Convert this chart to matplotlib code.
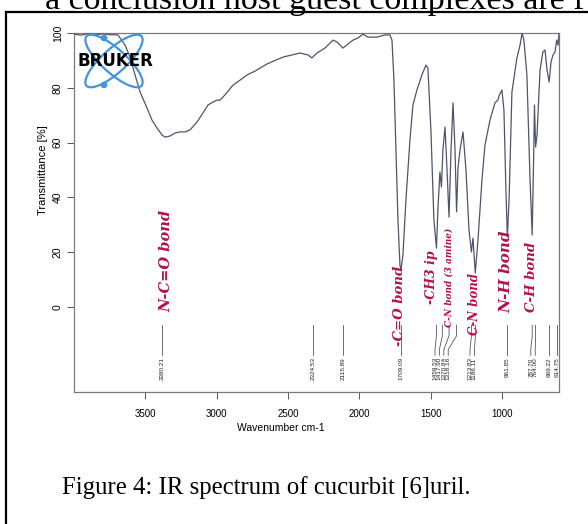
import matplotlib
matplotlib.use("Agg")
import matplotlib.pyplot as plt
from matplotlib.patches import Ellipse, Circle
from matplotlib.lines import Line2D

# IR trace of cucurbit[6]uril: wavenumber (cm-1) and transmittance (%)
wavenumber = [4000, 3950, 3900, 3850, 3800, 3750, 3692, 3642, 3607, 3572,
              3537, 3488, 3453, 3418, 3383, 3362, 3327, 3292, 3257, 3222,
              3187, 3138, 3096, 3061, 3026, 2998, 2977, 2942, 2885, 2836,
              2787, 2731, 2647, 2535, 2416, 2360, 2332, 2297, 2241, 2184,
              2156, 2114, 2079, 2044, 2009, 1974, 1939, 1876, 1820, 1785,
              1771, 1757, 1743, 1729, 1715, 1708, 1694, 1673, 1645, 1624,
              1596, 1561, 1533, 1519, 1498, 1477, 1459, 1449, 1435, 1424,
              1414, 1399, 1385, 1371, 1357, 1343, 1329, 1318, 1308, 1294,
              1273, 1252, 1231, 1214, 1203, 1187, 1168, 1140, 1119, 1084,
              1049, 1028, 1021, 1000, 986, 972, 962, 950, 930, 895,
              873, 859, 846, 825, 803, 788, 778, 772, 764, 754,
              733, 713, 698, 684, 669, 656, 642, 628, 616, 607,
              600]
transmittance = [99.6, 99.2, 99.8, 99.3, 99.7, 99.4, 99.3, 95.6, 91.2, 84.7,
                 78.5, 72.6, 68.2, 65.3, 62.8, 62.0, 62.4, 63.5, 63.9, 63.9,
                 64.6, 67.5, 70.8, 73.7, 74.8, 75.5, 75.5, 77.4, 81.0, 82.8,
                 84.7, 86.1, 88.7, 91.2, 92.7, 92.0, 90.9, 92.7, 94.5, 97.4,
                 96.7, 94.5, 96.0, 97.4, 98.2, 99.6, 98.5, 98.5, 99.3, 99.3,
                 97.4, 82.8, 57.3, 31.8, 15.3, 13.5, 19.0, 39.1, 60.9, 73.7,
                 79.2, 84.7, 88.3, 87.2, 64.6, 31.8, 21.5, 35.4, 49.3, 43.8,
                 57.3, 65.7, 50.0, 32.8, 57.3, 74.5, 57.3, 34.7, 50.7, 57.3,
                 63.9, 50.0, 28.1, 20.1, 25.2, 12.4, 24.5, 46.4, 59.1, 68.2,
                 74.5, 75.5, 77.0, 79.2, 71.9, 42.7, 25.5, 39.1, 78.5, 90.9,
                 95.6, 100.0, 97.4, 84.7, 46.4, 26.3, 53.6, 73.7, 58.4, 62.8,
                 86.5, 93.1, 93.8, 86.5, 82.1, 89.4, 92.0, 93.1, 97.4, 95.6,
                 100.0]

# picked peaks
peaks = [3380.21, 2324.53, 2115.89, 1709.09, 1459.53, 1417.90, 1370.84,
         1318.16, 1213.83, 1186.11, 961.85, 787.70, 764.00, 669.22, 614.75]

# band assignments written over the spectrum
bands = ["N-C=O bond", "-C=O bond", "-CH3 ip", "C-N bond (3 amine)",
         "C-N bond", "N-H bond", "C-H bond"]
band_at = [(3350, 17), (1715, 0.5), (1493, 11), (1369, 11), (1189, 1), (967, 13), (791, 11)]
band_size = [10.5, 9.5, 9, 6.5, 8.5, 11, 9.5]

W, H = 588, 524
SANS = ["Liberation Sans Narrow", "Liberation Sans", "DejaVu Sans"]
RED = "#b3124e"
LINE = "#52526c"
BLUE = "#4294dc"


def fx(px):
    return px / W


def fy(py):
    return 1 - py / H


def label_slots(pos, gap=31, join=53):
    # squeeze close peaks into a packed run of labels
    slots = list(pos)
    i = 0
    while i < len(pos):
        j = i
        while j + 1 < len(pos) and pos[j] - pos[j + 1] < join:
            j += 1
        if j > i:
            for k in range(i, j + 1):
                slots[k] = pos[i] + 10 - gap * (k - i)
        i = j + 1
    return slots


fig = plt.figure(figsize=(W / 100, H / 100), dpi=100)
fig.patch.set_facecolor("white")

# page text around the chart
fig.text(fx(45), fy(9), "a conclusion host guest complexes are f", fontsize=24.5,
         family="Liberation Serif", va="baseline", ha="left")
fig.add_artist(Line2D([fx(6), 1], [fy(12), fy(12)], color="black", lw=1.6))
fig.add_artist(Line2D([fx(6), fx(6)], [0, fy(12)], color="black", lw=1.6))
fig.text(fx(266), fy(488), "Figure 4: IR spectrum of cucurbit [6]uril.", fontsize=17.8,
         family="Liberation Serif", ha="center", va="center")

ax = fig.add_axes([fx(74), fy(392), fx(559) - fx(74), fy(33) - fy(392)])
ax.plot(wavenumber, transmittance, color=LINE, lw=0.9, zorder=3)
ax.set_xlim(4000, 600)
ax.set_ylim(-31, 100)
for s in ax.spines.values():
    s.set_color("#7a7a7a")
    s.set_linewidth(0.9)

ax.set_xticks([3500, 3000, 2500, 2000, 1500, 1000])
ax.set_yticks([0, 20, 40, 60, 80, 100])
ax.tick_params(axis="x", length=5, width=0.7, pad=7, labelsize=7, color="#555555")
ax.tick_params(axis="y", length=5, width=0.7, pad=3, labelsize=7.5, labelrotation=90,
               color="#555555")
for t in ax.get_xticklabels() + ax.get_yticklabels():
    t.set_family(SANS)
for t in ax.get_yticklabels():
    t.set_va("center")

fig.text(fx(281), fy(428), "Wavenumber cm-1", fontsize=7.5, family=SANS,
         ha="center", va="center")
fig.text(fx(43), fy(170), "Transmittance [%]", fontsize=8, family=SANS,
         rotation=90, ha="center", va="center")

# peak ticks and their wavenumber labels
for p, lp in zip(peaks, label_slots(peaks)):
    ax.plot([p, p, lp, lp], [-6.6, -10.5, -15.5, -17.6], color="#55556e", lw=0.6)
    ax.text(lp, -18.3, f"{p:.2f}", rotation=90, ha="center", va="top",
            fontsize=4.6, family=SANS, color="#222222")

for name, (x, y), size in zip(bands, band_at, band_size):
    ax.text(x, y, name, rotation=90, ha="center", va="center", color=RED,
            fontsize=size, family="DejaVu Serif", style="italic", weight="bold", zorder=4)

# instrument logo in the top left corner
logo = fig.add_axes([fx(74), fy(92), fx(160) - fx(74), fy(33) - fy(92)])
logo.set_xlim(74, 160)
logo.set_ylim(92, 33)
logo.axis("off")
logo.patch.set_alpha(0)
for ang in (42, -42):
    logo.add_patch(Ellipse((114, 61), 74, 24, angle=ang, fill=False,
                           ec=BLUE, lw=1.6))
logo.add_patch(Circle((104, 38), 2.6, color=BLUE))
logo.add_patch(Circle((104, 85), 2.6, color=BLUE))
logo.text(115, 61, "BRUKER", ha="center", va="center", fontsize=12,
          weight="bold", family="DejaVu Sans", color="black")

fig.savefig("out.png", dpi=100)
